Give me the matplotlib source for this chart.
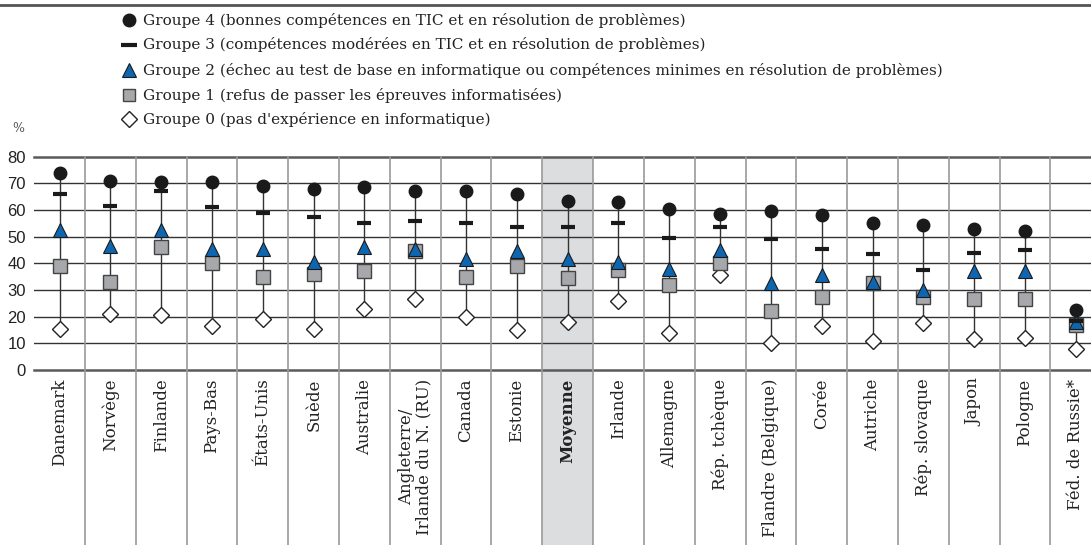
import numpy as np
import matplotlib
matplotlib.use('Agg')
import matplotlib.pyplot as plt
from matplotlib.lines import Line2D

pays = ['Danemark', 'Norvège', 'Finlande', 'Pays-Bas', 'États-Unis', 'Suède',
        'Australie', 'Angleterre/\nIrlande du N. (RU)', 'Canada', 'Estonie',
        'Moyenne', 'Irlande', 'Allemagne', 'Rép. tchèque', 'Flandre (Belgique)',
        'Corée', 'Autriche', 'Rép. slovaque', 'Japon', 'Pologne', 'Féd. de Russie*']
groupe4 = [74, 71, 70.5, 70.5, 69, 68, 68.5, 67, 67, 66, 63.5, 63, 60.5, 58.5, 59.5,
           58, 55, 54.5, 53, 52, 22.5]
groupe3 = [66, 61.5, 67, 61, 59, 57.5, 55, 56, 55, 53.5, 53.5, 55, 49.5, 53.5, 49,
           45.5, 43.5, 37.5, 44, 45, 18.5]
groupe2 = [52.5, 46.5, 52.5, 45.5, 45.5, 40.5, 46, 45.5, 41.5, 44.5, 41.5, 40.5, 38,
           45, 32.5, 35.5, 33, 30, 37, 37, 18]
groupe1 = [39, 33, 46, 40, 35, 36, 37, 44.5, 35, 39, 34.5, 37.5, 32, 40, 22, 27.5,
           32.5, 27.5, 26.5, 26.5, 17]
groupe0 = [15.5, 21, 20.5, 16.5, 19, 15.5, 23, 26.5, 20, 15, 18, 26, 14, 35.5, 10,
           16.5, 11, 17.5, 11.5, 12, 8]
legende = ['Groupe 4 (bonnes compétences en TIC et en résolution de problèmes)',
           'Groupe 3 (compétences modérées en TIC et en résolution de problèmes)',
           "Groupe 2 (échec au test de base en informatique ou compétences minimes en résolution de problèmes)",
           'Groupe 1 (refus de passer les épreuves informatisées)',
           "Groupe 0 (pas d'expérience en informatique)"]

serif = 'DejaVu Serif'
bleu = '#0f66b0'
gris = '#a6a8ab'

fig = plt.figure(figsize=(10.91, 5.45), dpi=100)
ax = fig.add_axes([34.2 / 1091, 175 / 545, 1 - 34.2 / 1091, 213.3 / 545])
x = np.arange(len(pays))
ax.set_xlim(-0.5, 20.3)
ax.set_ylim(0, 80)

# shaded average column
imoy = pays.index('Moyenne')
ax.axvspan(imoy - 0.5, imoy + 0.5, ymin=-0.83, ymax=1, color='#dcdddf',
           clip_on=False, zorder=0, lw=0)

# grid
for v in range(0, 90, 10):
    if v in (0, 80):
        ax.axhline(v, color='#5a5a5a', lw=1.8, zorder=1, clip_on=False)
    else:
        ax.axhline(v, color='#333333', lw=1.0, zorder=1)
for i in range(len(pays) - 1):
    ax.axvline(i + 0.5, ymin=-0.83, ymax=1, color='#9a9a9a', lw=1.2,
               clip_on=False, zorder=1)

# stems and markers
ax.vlines(x, groupe0, groupe4, color='#333333', lw=1.0, zorder=2)
ax.plot(x, groupe0, 'D', ms=8.5, mfc='white', mec='#222222', mew=1.0, ls='none', zorder=3)
ax.plot(x, groupe1, 's', ms=9.5, mfc=gris, mec='#444444', mew=1.0, ls='none', zorder=4)
ax.plot(x, groupe2, '^', ms=10, mfc=bleu, mec='#1a1a1a', mew=0.8, ls='none', zorder=5)
ax.plot(x, groupe3, '_', ms=10, mec='#1a1a1a', mew=3, ls='none', zorder=6)
ax.plot(x, groupe4, 'o', ms=9, mfc='#1a1a1a', mec='#1a1a1a', ls='none', zorder=7)

for s in ax.spines.values():
    s.set_visible(False)
ax.set_xticks([])
ax.set_yticks(range(0, 90, 10))
ax.tick_params(axis='y', length=0, pad=6, labelsize=12, labelcolor='#222222')
for lab in ax.get_yticklabels():
    lab.set_family('Liberation Sans')

# country labels
for i, p in enumerate(pays):
    ax.text(i, -0.04, p, transform=ax.get_xaxis_transform(), rotation=90,
            ha='center', va='top', family=serif, fontsize=12, color='#222222',
            fontweight='bold' if p == 'Moyenne' else 'normal',
            linespacing=0.95)

# legend drawn by hand
W, H = 1091, 545
rows = [20, 45, 70, 95, 119]
handles = [dict(marker='o', ms=9, mfc='#1a1a1a', mec='#1a1a1a'),
           dict(marker='_', ms=12, mec='#1a1a1a', mew=3),
           dict(marker='^', ms=10, mfc=bleu, mec='#1a1a1a', mew=0.8),
           dict(marker='s', ms=8.5, mfc=gris, mec='#444444', mew=1.0),
           dict(marker='D', ms=8.5, mfc='white', mec='#222222', mew=1.0)]
for y, h, t in zip(rows, handles, legende):
    fig.add_artist(Line2D([129 / W], [1 - y / H], transform=fig.transFigure,
                          ls='none', **h))
    fig.text(143 / W, 1 - y / H, t, family=serif, fontsize=11, color='#222222',
             va='center', ha='left')
fig.text(12 / W, 1 - 128 / H, '%', family=serif, fontsize=9, color='#555555',
         va='center', ha='left')
fig.add_artist(Line2D([0, 1], [1 - 5 / H, 1 - 5 / H], transform=fig.transFigure,
                      color='#555555', lw=2))

fig.savefig('out.png', dpi=100)
